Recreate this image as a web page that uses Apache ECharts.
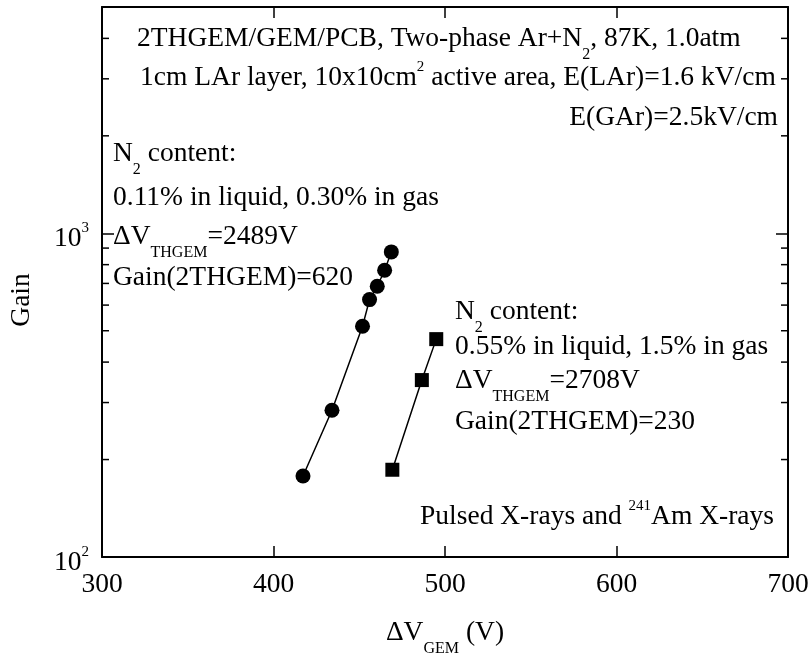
<!DOCTYPE html>
<html>
<head>
<meta charset="utf-8">
<script src="https://cdn.jsdelivr.net/npm/echarts@6/dist/echarts.min.js"></script>
<style>html,body{margin:0;padding:0;background:#fff;}#c{width:811px;height:653px;}</style>
</head>
<body>
<div id="c"></div>
<script>
// ---- data ----
const xMin = 300, xMax = 700, xInterval = 100;
const yMin = 100, yMax = 5000;
const yMajorTicks = [100, 1000];
const yMinorTicks = [200, 300, 400, 500, 600, 700, 800, 900, 2000, 3000, 4000];
const circleV = [417.2, 434.1, 451.9, 456.0, 460.5, 464.8, 468.7];
const circleGain = [178, 284, 516, 624, 686, 769, 876];
const squareV = [469.3, 486.5, 494.9];
const squareGain = [186, 352, 471];

const FONT = "'Liberation Serif','Times New Roman',serif";
const FS = 27.5;
const rich = {
  n: { fontFamily: FONT, fontSize: FS, color: '#000', verticalAlign: 'top', padding: [6, 0, 0, 0], lineHeight: 39 },
  s: { fontFamily: FONT, fontSize: 16, color: '#000', verticalAlign: 'top', padding: [28, 0, 0, 0], lineHeight: 10 },
  p: { fontFamily: FONT, fontSize: 15, color: '#000', verticalAlign: 'top', padding: [2, 0, 0, 0], lineHeight: 10 }
};
function txt(text, x, yc, align) {
  return { type: 'text', x: x, y: yc - 19.5, silent: true,
    style: { text: text, align: align || 'left', verticalAlign: 'top', rich: rich } };
}

const chart = echarts.init(document.getElementById('c'), null, { renderer: 'canvas' });
const axisLine = { show: true, lineStyle: { color: '#000', width: 2 } };
const option = {
  backgroundColor: '#fff',
  animation: false,
  grid: { left: 102, right: 23, top: 7, bottom: 96, containLabel: false, outerBoundsMode: 'none' },
  xAxis: [
    { type: 'value', min: xMin, max: xMax, interval: xInterval, position: 'bottom',
      axisLine: axisLine, splitLine: { show: false },
      axisTick: { inside: true, length: 11, lineStyle: { color: '#000', width: 1.5 } },
      axisLabel: { fontFamily: FONT, fontSize: FS, color: '#000', margin: 14 },
      name: '{n|ΔV}{s|GEM}{n| (V)}', nameLocation: 'middle', nameGap: 56,
      nameTextStyle: { rich: rich, verticalAlign: 'top' } },
    { type: 'value', min: xMin, max: xMax, interval: xInterval, position: 'top',
      axisLine: axisLine, splitLine: { show: false },
      axisTick: { inside: true, length: 11, lineStyle: { color: '#000', width: 1.5 } },
      axisLabel: { show: false } }
  ],
  yAxis: [
    { type: 'log', logBase: 10, min: yMin, max: yMax, position: 'left',
      axisLine: axisLine, splitLine: { show: false },
      axisTick: { inside: true, length: 12, lineStyle: { color: '#000', width: 1.5 } },
      axisLabel: { margin: 13, rich: rich, padding: [10, 0, 0, 0],
        formatter: v => {
          const i = yMajorTicks.indexOf(Math.round(v));
          return i >= 0 ? '{n|10}{p|' + (i + 2) + '}' : '';
        } } },
    { type: 'log', logBase: 10, min: yMin, max: yMax, position: 'right',
      axisLine: axisLine, splitLine: { show: false },
      axisTick: { inside: true, length: 12, lineStyle: { color: '#000', width: 1.5 } },
      axisLabel: { show: false } }
  ],
  series: [
    { type: 'line', xAxisIndex: 0, yAxisIndex: 0,
      data: circleV.map((v, i) => [v, circleGain[i]]),
      symbol: 'circle', symbolSize: 15, showAllSymbol: true,
      lineStyle: { color: '#000', width: 1.5 }, itemStyle: { color: '#000' }, z: 5 },
    { type: 'line', xAxisIndex: 0, yAxisIndex: 0,
      data: squareV.map((v, i) => [v, squareGain[i]]),
      symbol: 'rect', symbolSize: 14, showAllSymbol: true,
      lineStyle: { color: '#000', width: 1.5 }, itemStyle: { color: '#000' }, z: 5 },
    { type: 'custom', xAxisIndex: 0, yAxisIndex: 0, silent: true,
      data: yMinorTicks.map(v => [xMin, v]),
      encode: { x: 0, y: 1 },
      renderItem: (params, api) => {
        const v = api.value(1);
        const pl = api.coord([xMin, v]);
        const pr = api.coord([xMax, v]);
        const st = { stroke: '#000', lineWidth: 1.5 };
        return { type: 'group', children: [
          { type: 'line', shape: { x1: pl[0], y1: pl[1], x2: pl[0] + 7, y2: pl[1] }, style: st },
          { type: 'line', shape: { x1: pr[0], y1: pr[1], x2: pr[0] - 7, y2: pr[1] }, style: st }
        ] };
      } }
  ],
  graphic: [
    txt('{n|2THGEM/GEM/PCB, Two-phase Ar+N}{s|2}{n|, 87K, 1.0atm}', 137, 38),
    txt('{n|1cm LAr layer, 10x10cm}{p|2}{n| active area, E(LAr)=1.6 kV/cm}', 140, 77),
    txt('{n|E(GAr)=2.5kV/cm}', 778, 117, 'right'),
    txt('{n|N}{s|2}{n| content:}', 113, 153),
    txt('{n|0.11% in liquid, 0.30% in gas}', 113, 197),
    txt('{n|ΔV}{s|THGEM}{n|=2489V}', 113, 236),
    txt('{n|Gain(2THGEM)=620}', 113, 277),
    txt('{n|N}{s|2}{n| content:}', 455, 311),
    txt('{n|0.55% in liquid, 1.5% in gas}', 455, 346),
    txt('{n|ΔV}{s|THGEM}{n|=2708V}', 455, 380),
    txt('{n|Gain(2THGEM)=230}', 455, 421),
    txt('{n|Pulsed X-rays and }{p|241}{n|Am X-rays}', 774, 516, 'right'),
    { type: 'text', x: 22, y: 300, rotation: Math.PI / 2, silent: true,
      style: { text: 'Gain', fontFamily: FONT, fontSize: FS, fill: '#000', align: 'center', verticalAlign: 'middle' } }
  ]
};
chart.setOption(option);
</script>
</body>
</html>
